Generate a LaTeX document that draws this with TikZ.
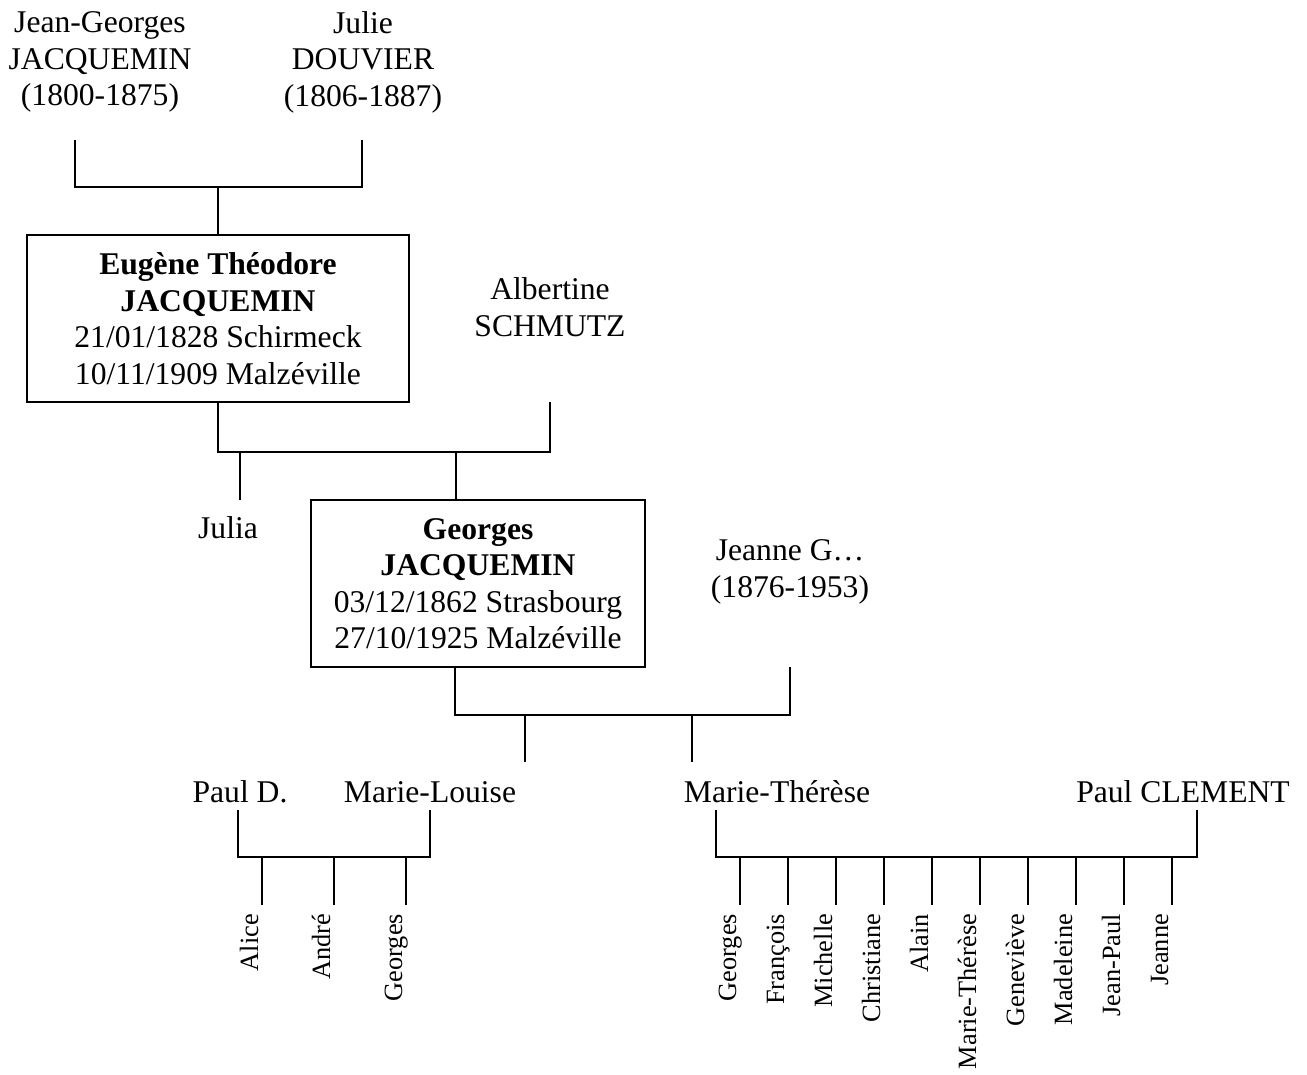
\documentclass[tikz,border=0pt]{standalone}
\usepackage{fontspec}
\setmainfont{Liberation Serif}
\usetikzlibrary{positioning}

\begin{document}
\begin{tikzpicture}[x=0.02cm,y=-0.02cm,line width=1.1pt,
    nom/.style={align=center,inner sep=0pt,font=\fontsize{18}{20.8}\selectfont},
    cadre/.style={nom,draw,minimum height=3.34cm},
    enfant/.style={rotate=90,anchor=base east,inner sep=0pt,font=\fontsize{15}{18}\selectfont}]
  \useasboundingbox (0,0) rectangle (1307,1074);

  \node[nom] (jg) at (100,62) {Jean-Georges\\JACQUEMIN\\(1800-1875)};
  \node[nom] (jd) at (363,62) {Julie\\DOUVIER\\(1806-1887)};
  \node[cadre,minimum width=7.64cm] (eugene) at (218,318.5) {\textbf{Eugène Théodore}\\\textbf{JACQUEMIN}\\21/01/1828 Schirmeck\\10/11/1909 Malzéville};
  \node[nom] (albertine) at (550,307) {Albertine\\SCHMUTZ};
  \node[nom,anchor=base] (julia) at (228,538) {Julia};
  \node[cadre,minimum width=6.68cm] (georges) at (478,583.5) {\textbf{Georges}\\\textbf{JACQUEMIN}\\03/12/1862 Strasbourg\\27/10/1925 Malzéville};
  \node[nom] (jeanne) at (790,572) {Jeanne G\ldots\\(1876-1953)};
  \node[nom,anchor=base] (pauld) at (240,802) {Paul D.};
  \node[nom,anchor=base] (marielouise) at (430,802) {Marie-Louise};
  \node[nom,anchor=base] (mariethe) at (777,802) {Marie-Thérèse};
  \node[nom,anchor=base] (clement) at (1183,802) {Paul CLEMENT};

  \coordinate (jgb) at (75,140);
  \coordinate (jdb) at (362,140);
  \coordinate (c1) at (218,187);
  \draw (jgb) |- (c1) -| (jdb);
  \draw (c1) -- (eugene.north);

  \coordinate (albb) at (550,402);
  \coordinate (c2) at (550,452);
  \coordinate (juliat) at (240,500);
  \coordinate (geot) at (456,500);
  \draw (eugene.south) |- (c2) -- (albb);
  \draw (juliat |- c2) -- (juliat);
  \draw (geot |- c2) -- (geot);

  \coordinate (geob) at (455,667);
  \coordinate (jeanb) at (790,667);
  \coordinate (c3) at (790,715);
  \coordinate (mlt) at (525,762);
  \coordinate (mtt) at (692,762);
  \draw (geob) |- (c3) -- (jeanb);
  \draw (mlt |- c3) -- (mlt);
  \draw (mtt |- c3) -- (mtt);

  \coordinate (pdb) at (238,810);
  \coordinate (mlb) at (430,810);
  \coordinate (c4) at (430,857);
  \draw (pdb) |- (c4) -- (mlb);
  \foreach \x/\n [count=\i] in {262/Alice,334/André,406/Georges} {
    \node[enfant] (a\i) at (\x-4,913) {\n};
    \coordinate (a\i t) at (\x,905);
    \draw (a\i t |- c4) -- (a\i t);
  }

  \coordinate (mtb) at (716,810);
  \coordinate (clb) at (1197,810);
  \coordinate (c5) at (1197,857);
  \draw (mtb) |- (c5) -- (clb);
  \foreach \x/\n [count=\i] in {740/Georges,788/François,836/Michelle,884/Christiane,932/Alain,980/Marie-Thérèse,1028/Geneviève,1076/Madeleine,1124/Jean-Paul,1172/Jeanne} {
    \node[enfant] (b\i) at (\x-4,913) {\n};
    \coordinate (b\i t) at (\x,905);
    \draw (b\i t |- c5) -- (b\i t);
  }
\end{tikzpicture}
\end{document}
